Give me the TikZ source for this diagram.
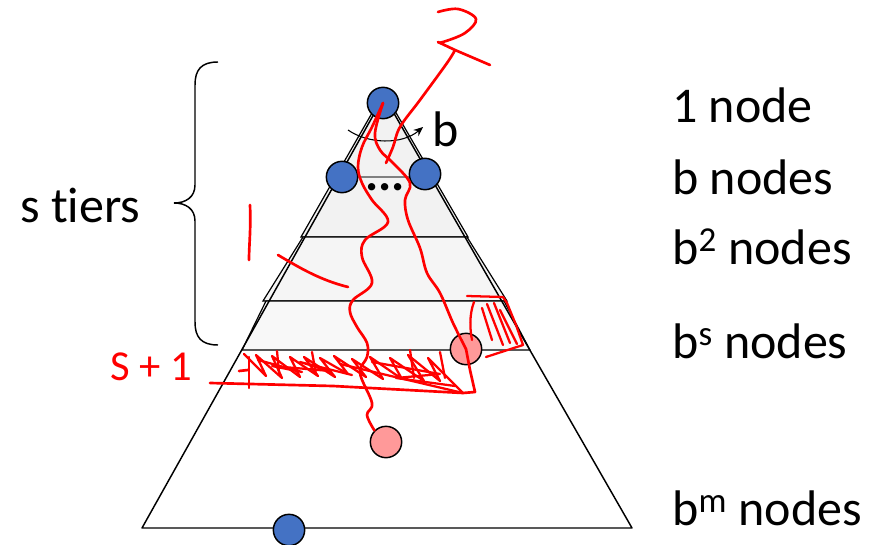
\documentclass[tikz,border=0pt]{standalone}
\usepackage{fontspec}
\setmainfont{Carlito}[Ligatures=NoCommon]
\usetikzlibrary{arrows.meta}
\definecolor{nodeblue}{HTML}{4472C4}
\definecolor{nodepink}{HTML}{FF9999}
\definecolor{tierA}{HTML}{F2F2F2}
\definecolor{tierB}{HTML}{F5F5F5}
\definecolor{tierC}{HTML}{F8F8F8}
\definecolor{pen}{HTML}{FF0000}
\begin{document}
\begin{tikzpicture}[x=0.75pt,y=-0.75pt,
  treenode/.style={circle,draw=black,line width=1.1pt,minimum size=23.5pt,inner sep=0pt},
  bluenode/.style={treenode,fill=nodeblue},
  pinknode/.style={treenode,fill=nodepink},
  tier/.style={draw=black,line width=0.9pt},
  edgeline/.style={draw=black,line width=1.1pt,line join=round},
  lbl/.style={anchor=base west,inner sep=0pt,font=\fontsize{37.5}{44}\selectfont},
  redpen/.style={draw=pen,line width=2pt,line cap=round,line join=round},
  redthin/.style={draw=pen,line width=1.7pt,line cap=round,line join=round}]
\useasboundingbox (0,0) rectangle (884,545);
% tiers
\path[tier,fill=tierA] (384,92) -- (301,237) -- (468,237) -- cycle;
\path[tier,fill=tierB] (303,237) -- (467,237) -- (507,301) -- (263,301) -- cycle;
\path[tier,fill=tierC] (266,301) -- (504,301) -- (530,350) -- (242,350) -- cycle;
\draw[gray,line width=0.8pt] (338,177) -- (430,177);
% outer triangle
\draw[edgeline] (142,528) -- (384,96) -- (632,528) -- cycle;
% nodes
\node[bluenode] (top) at (383,103) {};
\node[bluenode] (bl) at (342,177) {};
\node[bluenode] (br) at (425,174) {};
\node[bluenode] (bot) at (289,530) {};
\node[pinknode] (pa) at (466,349) {};
\node[pinknode] (pb) at (386,442) {};
\node[anchor=base,inner sep=0pt,font=\fontsize{37}{44}\selectfont\bfseries] (dots) at (385,191) {...};
% branching arc
\coordinate (arcS) at (348,130);
\coordinate (arcE) at (423,127);
\draw[line width=0.8pt,-{Stealth[length=7pt,width=6pt]}] (arcS) .. controls (368,144) and (402,145) .. (arcE);
\node[lbl] (blab) at (432,147) {b};
% right labels
\node[lbl] (l1) at (672,123) {1 node};
\node[lbl] (l2) at (672,195) {b nodes};
\node[lbl] (l3) at (672,264) {b\textsuperscript{2} nodes};
\node[lbl] (l4) at (672,358) {b\textsuperscript{s} nodes};
\node[lbl] (l5) at (672,525) {b\textsuperscript{m} nodes};
% brace and s tiers
\node[lbl] (tiers) at (20,223) {s tiers};
\draw[line width=1.1pt] (218,62) .. controls (201,62) and (195,70) .. (195,85) -- (195,185)
  .. controls (195,197) and (186,203) .. (174,203) .. controls (186,203) and (195,209) .. (195,221)
  -- (195,322) .. controls (195,337) and (201,345) .. (218,345);
% red annotations
\draw[redpen] plot[smooth,tension=0.6] coordinates {(438,12) (458,9) (476,19) (465,33) (443,42) (438,42)} -- (455,50) -- (490,65);
\draw[redpen] plot[smooth,tension=0.6] coordinates {(455,50) (447,63) (420,100) (400,127) (393,147) (386,163)};
\draw[redpen] plot[smooth,tension=0.6] coordinates {(top.center) (372,127) (362,147) (358,167) (362,183) (372,200) (388,222) (365,240) (362,257) (372,283) (353,300) (350,312) (357,327) (367,343) (367,357) (360,373) (372,403) (367,415) (pb.135)};
\draw[redpen] plot[smooth,tension=0.6] coordinates {(top.center) (375,133) (380,150) (393,163) (410,183) (405,200) (408,220) (420,248) (427,273) (440,293) (453,323) (pa.center)};
\draw[redpen] (pa.center) -- (470,370) -- (475,392) -- (463,393) -- (333,386) -- (210,383);
% "1"
\draw[redpen] (250,205) .. controls (251,230) and (249,245) .. (249,260);
\draw[redpen] (278,255) .. controls (300,268) and (320,280) .. (348,287);
% S+1
\node[anchor=base west,inner sep=0pt,text=pen,font=\fontsize{32}{38}\selectfont] (sp1) at (110,380) {S + 1};
\draw[redpen] (239,371) -- (248,370);
% hatch in lower band
\draw[redthin] (244,354) -- (266,376) -- (256,355) -- (282,378) -- (272,356) -- (300,377) -- (290,357) -- (318,376) -- (304,357) -- (335,377) -- (320,358) -- (348,374) -- (334,356) -- (366,377) -- (352,359) -- (383,379) -- (370,357) -- (402,379) -- (390,358) -- (424,381) -- (408,355) -- (440,381) -- (428,358) -- (463,393);
\draw[redthin] (249,357) -- (249,388);
\draw[redthin] (258,360) -- (302,372) -- (272,366) -- (330,371) -- (300,362) -- (352,375);
\draw[redthin] (340,364) -- (463,393);
\draw[redthin] (372,362) -- (440,374) -- (396,378) -- (455,386);
\draw[redthin] (410,350) -- (414,378);
\draw[redthin] (440,352) -- (445,378);
\draw[redthin] (312,352) -- (316,374);
\draw[redthin] (277,351) -- (279,372);
% hatch box at right
\draw[redthin] (467,296) -- (503,297) -- (507,303) -- (516,325) -- (523,345) -- (486,357);
\draw[redthin] (474,302) .. controls (469,315) and (470,330) .. (472,340);
\draw[redthin] (482,308) -- (492,340);
\draw[redthin] (487,304) -- (503,345);
\draw[redthin] (494,303) -- (510,343);
\draw[redthin] (500,310) -- (517,344);
\end{tikzpicture}
\end{document}
